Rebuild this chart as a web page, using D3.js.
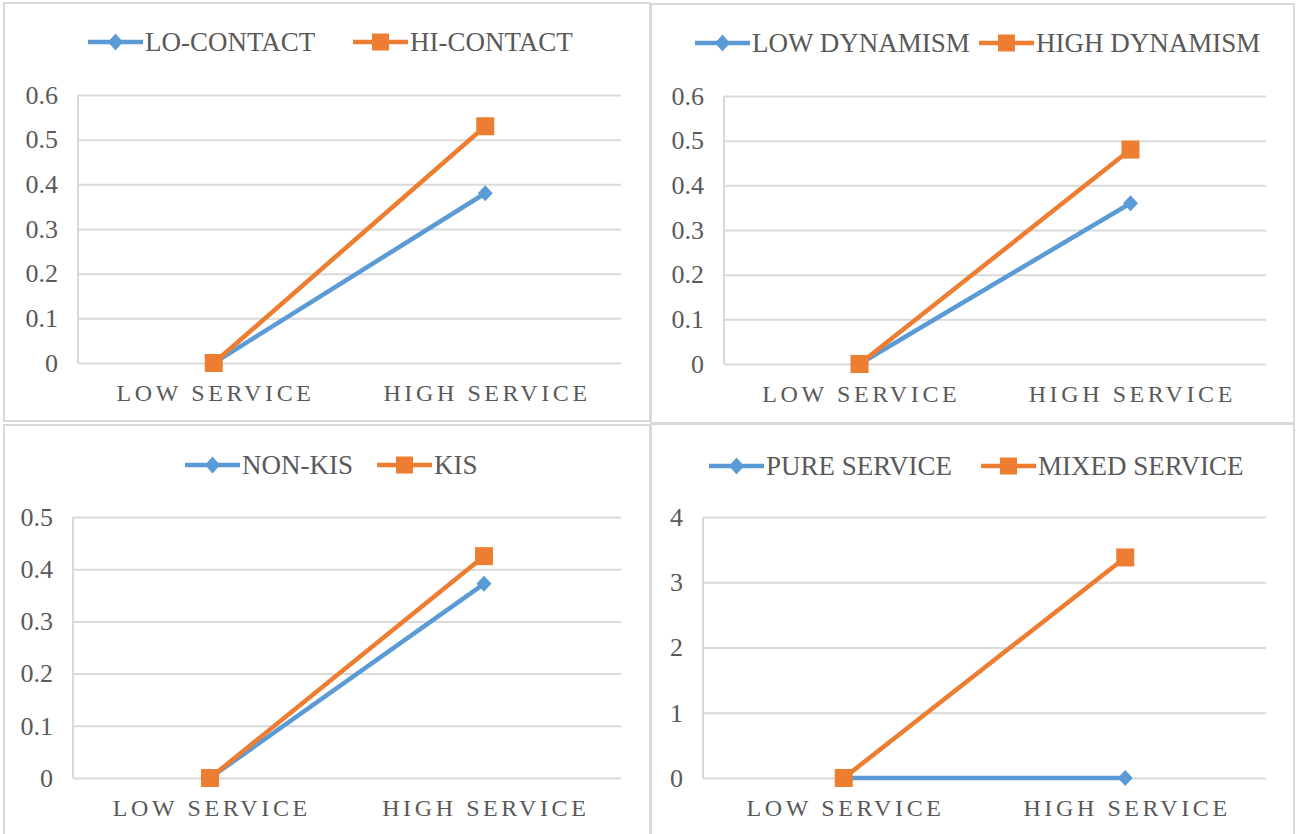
<!DOCTYPE html>
<html>
<head>
<meta charset="utf-8">
<script src="https://cdn.jsdelivr.net/npm/d3@7"></script>
<style>
  html, body { margin: 0; padding: 0; background: #ffffff; }
  svg { display: block; }
  svg text { font-family: 'Liberation Serif', 'Times New Roman', Times, 'DejaVu Serif', serif !important; fill: #595959; }
</style>
</head>
<body>
<svg id="chart" width="1298" height="834"></svg>
<script>
// Category axis shared by all four panels
const categories = ["LOW SERVICE", "HIGH SERVICE"];

// Panel 1: customer contact
const contactNames = ["LO-CONTACT", "HI-CONTACT"];
const loContact = [0, 0.38];
const hiContact = [0, 0.53];
const contactTicks = [0, 0.1, 0.2, 0.3, 0.4, 0.5, 0.6];

// Panel 2: environmental dynamism
const dynamismNames = ["LOW DYNAMISM", "HIGH DYNAMISM"];
const lowDynamism = [0, 0.36];
const highDynamism = [0, 0.48];
const dynamismTicks = [0, 0.1, 0.2, 0.3, 0.4, 0.5, 0.6];

// Panel 3: knowledge-intensive services
const kisNames = ["NON-KIS", "KIS"];
const nonKis = [0, 0.372];
const kis = [0, 0.425];
const kisTicks = [0, 0.1, 0.2, 0.3, 0.4, 0.5];

// Panel 4: service type
const serviceNames = ["PURE SERVICE", "MIXED SERVICE"];
const pureService = [0, 0];
const mixedService = [0, 3.38];
const serviceTicks = [0, 1, 2, 3, 4];

const BLUE = "#5b9bd5";
const ORANGE = "#ed7d31";
const GRID = "#d9d9d9";
const SERIF = "'Liberation Serif', 'Times New Roman', Times, 'DejaVu Serif', serif";

const panels = [
  { box: [4, 3, 646, 418], plot: [78, 95, 621, 363], legendY: 42, legendX: [88, 353],
    names: contactNames, series: [loContact, hiContact], ticks: contactTicks },
  { box: [651, 4, 643, 419], plot: [724, 96, 1266, 364], legendY: 43, legendX: [695, 979],
    names: dynamismNames, series: [lowDynamism, highDynamism], ticks: dynamismTicks },
  { box: [4, 425, 646, 420], plot: [73, 517, 621, 778], legendY: 465, legendX: [185, 377],
    names: kisNames, series: [nonKis, kis], ticks: kisTicks },
  { box: [651, 424, 643, 420], plot: [703, 517, 1266, 778], legendY: 466, legendX: [709, 981],
    names: serviceNames, series: [pureService, mixedService], ticks: serviceTicks }
];

const svg = d3.select("#chart");
svg.append("rect").attr("width", 1298).attr("height", 834).attr("fill", "#ffffff");

// Blue series uses a diamond, orange series a square
function drawMarker(g, kind, x, y, w, h) {
  if (kind === 0) {
    const p = d3.path();
    p.moveTo(x, y - h / 2);
    p.lineTo(x + w / 2, y);
    p.lineTo(x, y + h / 2);
    p.lineTo(x - w / 2, y);
    p.closePath();
    g.append("path").attr("d", p.toString()).attr("fill", BLUE);
  } else {
    g.append("rect")
      .attr("x", x - w / 2).attr("y", y - h / 2)
      .attr("width", w).attr("height", h)
      .attr("fill", ORANGE);
  }
}

panels.forEach(p => {
  const g = svg.append("g");
  const [bx, by, bw, bh] = p.box;
  g.append("rect")
    .attr("x", bx).attr("y", by).attr("width", bw).attr("height", bh)
    .attr("fill", "#ffffff").attr("stroke", GRID).attr("stroke-width", 2);

  const [x0, y0, x1, y1] = p.plot;
  const x = d3.scaleBand().domain(categories).range([x0, x1]);
  const y = d3.scaleLinear().domain([0, d3.max(p.ticks)]).range([y1, y0]);

  // horizontal gridlines and value labels
  const yAxis = d3.axisLeft(y).tickValues(p.ticks).tickSize(-(x1 - x0)).tickPadding(20)
    .tickFormat(d => String(d));
  const ya = g.append("g").attr("transform", `translate(${x0},0)`).call(yAxis)
    .attr("font-family", null).attr("font-size", null);
  ya.select(".domain").remove();
  ya.selectAll(".tick line").attr("stroke", GRID).attr("stroke-width", 2);
  ya.selectAll(".tick text")
    .style("font-size", "26px").style("font-family", SERIF).attr("fill", "#595959");

  // vertical axis line
  g.append("line").attr("x1", x0).attr("x2", x0).attr("y1", y0).attr("y2", y1)
    .attr("stroke", GRID).attr("stroke-width", 2);

  // category labels
  const xAxis = d3.axisBottom(x).tickSize(0).tickPadding(0);
  const xa = g.append("g").attr("transform", `translate(0,${y1})`).call(xAxis)
    .attr("font-family", null).attr("font-size", null);
  xa.select(".domain").remove();
  xa.selectAll(".tick text")
    .attr("y", 38).attr("dy", 0)
    .attr("dx", 1.8)
    .style("font-size", "24px").style("letter-spacing", "3.6px").style("font-family", SERIF)
    .attr("fill", "#595959");

  // series lines and markers
  const cx = c => x(c) + x.bandwidth() / 2;
  const line = d3.line().x((d, i) => cx(categories[i])).y(d => y(d));
  p.series.forEach((vals, si) => {
    g.append("path").datum(vals)
      .attr("d", line)
      .attr("fill", "none")
      .attr("stroke", si === 0 ? BLUE : ORANGE)
      .attr("stroke-width", 4.5)
      .attr("stroke-linejoin", "round");
  });
  p.series.forEach((vals, si) => {
    vals.forEach((v, i) => {
      if (si === 0) drawMarker(g, 0, cx(categories[i]), y(v), 15, 16);
      else drawMarker(g, 1, cx(categories[i]), y(v), 18, 18);
    });
  });

  // legend
  p.names.forEach((name, si) => {
    const lx = p.legendX[si];
    const ly = p.legendY;
    g.append("line").attr("x1", lx).attr("x2", lx + 55).attr("y1", ly).attr("y2", ly)
      .attr("stroke", si === 0 ? BLUE : ORANGE).attr("stroke-width", 4.5);
    if (si === 0) drawMarker(g, 0, lx + 27.5, ly, 15, 17);
    else drawMarker(g, 1, lx + 27.5, ly, 17, 17);
    g.append("text").attr("x", lx + 57).attr("y", ly + 9)
      .style("font-size", "27px").style("font-family", SERIF).text(name);
  });
});
</script>
</body>
</html>
